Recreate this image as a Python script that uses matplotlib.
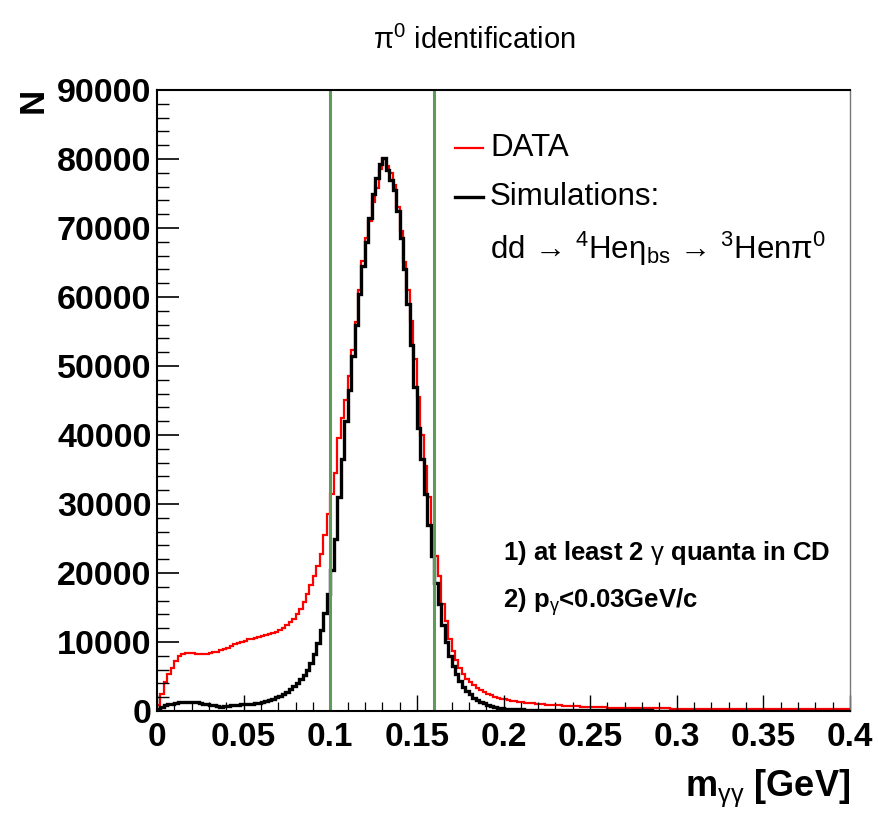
#!/usr/bin/env python3
import matplotlib
matplotlib.use("Agg")
import matplotlib.pyplot as plt
import numpy as np

plt.rcParams['font.family'] = ['Liberation Sans', 'DejaVu Sans']
plt.rcParams['mathtext.fontset'] = 'custom'
plt.rcParams['mathtext.rm'] = 'Liberation Sans'
plt.rcParams['mathtext.it'] = 'Liberation Sans:italic'
plt.rcParams['mathtext.bf'] = 'Liberation Sans:bold'

BIN_WIDTH = 0.002
N_BINS = 200

# measured spectrum (DATA), one value per 2 MeV bin starting at 0
data_counts = [
    800, 2500, 4200, 5300, 6300, 7200, 7900, 8300, 8450, 8400,
    8350, 8300, 8250, 8300, 8250, 8350, 8500, 8600, 8800, 9000,
    9200, 9450, 9700, 9900, 10050, 10200, 10400, 10500, 10600, 10700,
    10850, 11000, 11150, 11350, 11500, 11800, 12100, 12400, 12900, 13400,
    14000, 14800, 15800, 17000, 18300, 19500, 21000, 22800, 25500, 28600,
    31500, 34500, 39500, 42500, 45000, 48500, 52300, 56400, 61000, 65200,
    68500, 71000, 73800, 75800, 78500, 80000, 79000, 78000, 76200, 73000,
    69500, 65000, 61000, 56500, 51000, 45500, 40000, 35500, 31000, 26500,
    22500, 19500, 15500, 13000, 10500, 8700, 7400, 6300, 5400, 4700,
    4200, 3800, 3400, 3100, 2800, 2500, 2300, 2100, 1950, 1800,
    1700, 1600, 1500, 1400, 1300, 1250, 1200, 1150, 1100, 1050,
    1000, 950, 920, 900, 870, 840, 810, 780, 750, 720,
    700, 680, 650, 630, 610, 590, 570, 550, 530, 510,
    500, 490, 480, 470, 460, 450, 440, 430, 420, 410,
    400, 395, 390, 385, 380, 375, 370, 365, 360, 355,
    350, 348, 345, 342, 340, 337, 335, 332, 330, 327,
    325, 322, 320, 317, 315, 312, 310, 307, 305, 302,
    300, 297, 295, 292, 290, 287, 285, 282, 280, 277,
    275, 272, 270, 268, 266, 264, 262, 260, 258, 256,
    255, 254, 253, 252, 251, 250, 249, 248, 247, 246,
]

# simulation dd -> 4He eta_bs -> 3He n pi0
sim_counts = [
    300, 600, 800, 950, 1050, 1150, 1250, 1300, 1350, 1300,
    1350, 1250, 1150, 1050, 950, 900, 800, 700, 650, 700,
    750, 800, 850, 900, 950, 1000, 1000, 1050, 1100, 1200,
    1300, 1400, 1600, 1800, 2000, 2200, 2400, 2800, 3200, 3600,
    4100, 4600, 5200, 6000, 7000, 8300, 9800, 11800, 14200, 17000,
    20500, 25000, 31000, 36500, 42000, 46500, 51500, 56000, 60500, 64500,
    68000, 71500, 75000, 77200, 79300, 80200, 78400, 77000, 75500, 72500,
    68500, 64000, 59000, 53000, 47000, 41000, 36500, 31500, 27000, 22500,
    18500, 15500, 12500, 10000, 8000, 6500, 5300, 4300, 3500, 2900,
    2400, 1900, 1600, 1300, 1100, 900, 750, 600, 500, 420,
    360, 320, 290, 260, 240, 220, 200, 190, 180, 170,
    160, 155, 150, 145, 140, 135, 130, 125, 120, 115,
    110, 108, 106, 104, 102, 100, 98, 96, 94, 92,
    90, 88, 86, 84, 82, 80, 79, 78, 77, 76,
    75, 74, 73, 72, 71, 70, 69, 68, 67, 66,
    65, 64, 63, 62, 61, 60, 60, 59, 59, 58,
    58, 57, 57, 56, 56, 55, 55, 54, 54, 53,
    53, 52, 52, 51, 51, 50, 50, 50, 50, 50,
    50, 50, 50, 50, 50, 50, 50, 50, 50, 50,
    50, 50, 50, 50, 50, 50, 50, 50, 50, 50,
]

cut_lines = [0.1, 0.16]
x_ticks = [0, 0.05, 0.1, 0.15, 0.2, 0.25, 0.3, 0.35, 0.4]
x_tick_labels = ['0', '0.05', '0.1', '0.15', '0.2', '0.25', '0.3', '0.35', '0.4']
y_ticks = [0, 10000, 20000, 30000, 40000, 50000, 60000, 70000, 80000, 90000]


def main():
    fig = plt.figure(figsize=(8.79, 8.19), dpi=100)
    ax = fig.add_axes([157/879, 1-711/819, 693/879, 621/819])

    edges = np.arange(N_BINS + 1) * BIN_WIDTH
    ax.stairs(data_counts, edges, color='#ff0000', linewidth=1.6, baseline=None)
    ax.stairs(sim_counts, edges, color='black', linewidth=2.4, baseline=None)

    for xc in cut_lines:
        ax.axvline(xc, color='#5f9a5a', linewidth=2.2)

    ax.set_xlim(0, 0.4)
    ax.set_ylim(0, 90000)
    ax.set_xticks(x_ticks)
    ax.set_xticklabels(x_tick_labels)
    ax.set_yticks(y_ticks)
    ax.set_yticklabels([str(v) for v in y_ticks])
    ax.set_xticks(np.arange(0, 0.4001, 0.01), minor=True)
    ax.set_yticks(np.arange(0, 90001, 2000), minor=True)

    ax.tick_params(axis='both', which='both', direction='in', top=False, right=False)
    ax.tick_params(axis='x', which='major', length=11.5, width=1.0, pad=8,
                   labelsize=24)
    ax.tick_params(axis='x', which='minor', length=6.5, width=0.9)
    ax.tick_params(axis='y', which='major', length=16, width=1.2, pad=4,
                   labelsize=24.5)
    ax.tick_params(axis='y', which='minor', length=8.5, width=1.0)
    for lab in ax.get_xticklabels() + ax.get_yticklabels():
        lab.set_fontweight('bold')

    for side in ['left', 'bottom', 'top']:
        ax.spines[side].set_linewidth(1.5)
        ax.spines[side].set_color('black')
    ax.spines['right'].set_linewidth(1.0)
    ax.spines['right'].set_color('#777777')

    # legend drawn by hand, ROOT style
    ax.plot([0.430, 0.470], [0.907, 0.907], color='#ff0000', linewidth=1.6,
            transform=ax.transAxes)
    ax.plot([0.430, 0.470], [0.828, 0.828], color='black', linewidth=2.4,
            transform=ax.transAxes)
    ax.text(0.4805, 0.907, 'DATA', transform=ax.transAxes, fontsize=22.5,
            va='center', ha='left')
    ax.text(0.4805, 0.828, 'Simulations:', transform=ax.transAxes, fontsize=22.5,
            va='center', ha='left')
    ax.text(0.4805, 0.745,
            r'dd$\,\rightarrow\,^{4}$He$\mathrm{\eta}_{\rm bs}\,\rightarrow\,^{3}$Hen$\mathrm{\pi}^{0}$',
            transform=ax.transAxes, fontsize=22.5, va='center', ha='left')

    ax.text(0.4993, 0.2544, r'1) at least 2 $\mathrm{\gamma}$ quanta in CD',
            transform=ax.transAxes, fontsize=18.5, fontweight='bold',
            va='center', ha='left')
    ax.text(0.4993, 0.1755, r'2) p$_{\mathrm{\gamma}}$<0.03GeV/c',
            transform=ax.transAxes, fontsize=18.5, fontweight='bold',
            va='center', ha='left')

    fig.text(474/879, 1-40/819, r'$\mathrm{\pi}^{0}$ identification', fontsize=21,
             ha='center', va='center')
    fig.text(33/879, 1-88/819, 'N', fontsize=25, fontweight='bold',
             rotation=90, ha='center', va='top')
    fig.text(850/879, 1-788/819, r'm$_{\mathrm{\gamma\gamma}}$ [GeV]', fontsize=26,
             fontweight='bold', ha='right', va='center')

    fig.savefig('out.png', dpi=100)


if __name__ == '__main__':
    main()
